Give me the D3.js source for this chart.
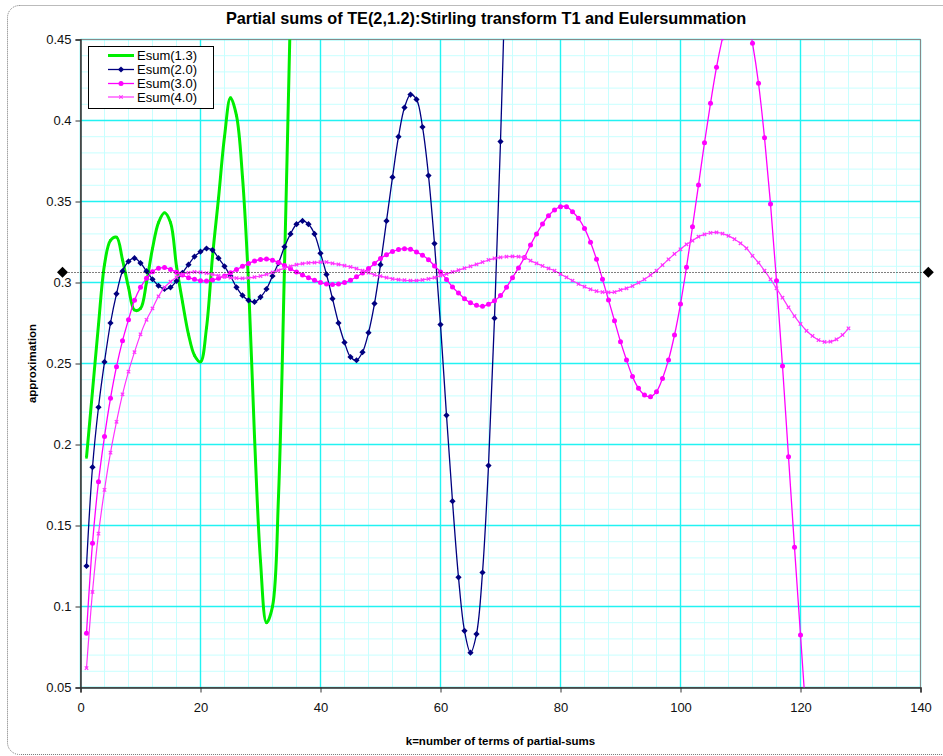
<!DOCTYPE html>
<html>
<head>
<meta charset="utf-8">
<script src="https://cdn.jsdelivr.net/npm/d3@7"></script>
<style>
  body { margin: 0; background: #fff; }
  svg text { font-family: "Liberation Sans", Arial, sans-serif; }
</style>
</head>
<body>
<svg id="chart" width="943" height="756"></svg>
<script>
/* data, one value per k = 1, 2, 3, ... */

var titleText = "Partial sums of TE(2,1.2):Stirling transform T1 and Eulersummation";
var xLabel = "k=number of terms of partial-sums";
var yLabel = "approximation";

var xTicks = [0, 20, 40, 60, 80, 100, 120, 140];
var yTicks = [0.05, 0.1, 0.15, 0.2, 0.25, 0.3, 0.35, 0.4, 0.45];
var yTickLabels = ["0.05", "0.1", "0.15", "0.2", "0.25", "0.3", "0.35", "0.4", "0.45"];

var seriesNames = ["Esum(1.3)", "Esum(2.0)", "Esum(3.0)", "Esum(4.0)"];

var esum13 = [0.192, 0.233, 0.274, 0.311, 0.326, 0.328, 0.314, 0.297, 0.283, 0.284,
  0.300, 0.321, 0.337, 0.343, 0.337, 0.310, 0.288, 0.268, 0.255, 0.251,
  0.272, 0.316, 0.352, 0.390, 0.414, 0.403, 0.365, 0.300, 0.205, 0.128,
  0.090, 0.100, 0.168, 0.310, 0.470];

var esum20 = [0.125, 0.186, 0.223, 0.251, 0.275, 0.293, 0.307, 0.313, 0.315, 0.312,
  0.307, 0.302, 0.298, 0.296, 0.297, 0.301, 0.306, 0.311, 0.316, 0.319,
  0.321, 0.320, 0.315, 0.310, 0.304, 0.297, 0.292, 0.289, 0.288, 0.291,
  0.296, 0.304, 0.312, 0.322, 0.330, 0.336, 0.338, 0.336, 0.330, 0.318,
  0.305, 0.290, 0.275, 0.263, 0.254, 0.252, 0.257, 0.269, 0.287, 0.311,
  0.338, 0.365, 0.390, 0.408, 0.416, 0.413, 0.396, 0.366, 0.324, 0.274,
  0.218, 0.165, 0.118, 0.085, 0.0715, 0.083, 0.121, 0.187, 0.278, 0.387,
  0.515];

var esum30 = [0.0835, 0.139, 0.177, 0.205, 0.2285, 0.248, 0.264, 0.277, 0.289, 0.297,
  0.3026, 0.3067, 0.3088, 0.3092, 0.3081, 0.3063, 0.3046, 0.303, 0.302, 0.3011,
  0.3009, 0.3015, 0.3026, 0.304, 0.306, 0.308, 0.310, 0.3118, 0.3132, 0.3142,
  0.3145, 0.3138, 0.3124, 0.3105, 0.3085, 0.3065, 0.3047, 0.303, 0.3014, 0.300,
  0.299, 0.2988, 0.299, 0.300, 0.3014, 0.3035, 0.3059, 0.3086, 0.3117, 0.3148,
  0.3172, 0.3191, 0.3203, 0.3209, 0.3205, 0.3189, 0.3168, 0.3141, 0.3102, 0.3065,
  0.3019, 0.2972, 0.2935, 0.290, 0.2875, 0.2859, 0.2853, 0.2866, 0.2888, 0.2919,
  0.297, 0.303, 0.309, 0.3155, 0.3231, 0.330, 0.3361, 0.3412, 0.3448, 0.3468,
  0.3468, 0.3437, 0.3396, 0.3334, 0.3248, 0.3143, 0.302, 0.2892, 0.2764, 0.2635,
  0.2522, 0.2419, 0.2347, 0.2306, 0.2295, 0.2326, 0.2408, 0.2522, 0.2676, 0.2867,
  0.3094, 0.3344, 0.3602, 0.3863, 0.4106, 0.4328, 0.451, 0.466, 0.475, 0.476,
  0.467, 0.4477, 0.423, 0.3894, 0.3485, 0.3011, 0.2485, 0.1925, 0.1365, 0.0824,
  0.028];

var esum40 = [0.062, 0.109, 0.145, 0.172, 0.195, 0.214, 0.231, 0.245, 0.257, 0.268,
  0.277, 0.284, 0.2915, 0.297, 0.3005, 0.3032, 0.305, 0.306, 0.3065, 0.3063,
  0.3058, 0.305, 0.3042, 0.3035, 0.303, 0.3027, 0.3026, 0.3028, 0.3033, 0.304,
  0.305, 0.3062, 0.3075, 0.3088, 0.310, 0.311, 0.3117, 0.3121, 0.3123, 0.3126,
  0.3126, 0.3118, 0.3112, 0.3104, 0.3096, 0.3086, 0.3073, 0.3061, 0.3047, 0.3039,
  0.303, 0.3022, 0.3018, 0.3014, 0.3012, 0.3012, 0.3016, 0.3022, 0.303, 0.3043,
  0.3053, 0.3065, 0.3076, 0.3088, 0.310, 0.3112, 0.3126, 0.3139, 0.3149, 0.3155,
  0.3159, 0.3161, 0.3159, 0.3155, 0.3135, 0.3118, 0.3102, 0.3087, 0.3073, 0.3052,
  0.3032, 0.3011, 0.2991, 0.2974, 0.2958, 0.2946, 0.2941, 0.2939, 0.2941, 0.2954,
  0.2964, 0.2978, 0.2999, 0.302, 0.3046, 0.3073, 0.3108, 0.3143, 0.3176, 0.3205,
  0.3236, 0.3258, 0.3283, 0.3297, 0.3307, 0.3309, 0.3302, 0.3288, 0.3267, 0.3242,
  0.3211, 0.3165, 0.3122, 0.3073, 0.302, 0.2964, 0.2906, 0.2847, 0.2793, 0.2744,
  0.2702, 0.267, 0.2645, 0.2633, 0.2635, 0.2649, 0.2676, 0.2717];

// the dotted limit line with its two diamonds (sits just outside the plot)
var limitK = [-3, 141.3];
var limitV = [0.3063, 0.3063];

/* SECTION: setup */

var svg = d3.select("#chart"),
    width = +svg.attr("width"),
    height = +svg.attr("height");

var x = d3.scaleLinear().domain([0, 140]).range([80.5, 920.5]);
var y = d3.scaleLinear().domain([0.05, 0.45]).range([687.5, 39.5]);

// chart area frame
svg.append("rect")
    .attr("x", 7.5).attr("y", 5.5)
    .attr("width", 960).attr("height", 749)
    .attr("rx", 12).attr("ry", 12)
    .attr("fill", "#fff")
    .attr("stroke", "#777")
    .attr("stroke-dasharray", "1,1");

svg.append("text")
    .attr("x", 486).attr("y", 24)
    .attr("text-anchor", "middle")
    .attr("font-size", 16.3).attr("font-weight", "bold")
    .text(titleText);

/* SECTION: grid */

var grid = svg.append("g").attr("class", "grid");
var minorX = d3.range(0, 141, 4), minorY = d3.range(0.05, 0.4501, 0.01);

grid.selectAll("line.mx").data(minorX).enter().append("line")
    .attr("x1", function(d) { return x(d); }).attr("x2", function(d) { return x(d); })
    .attr("y1", y(0.05)).attr("y2", y(0.45))
    .attr("stroke", "#c8ffff").attr("stroke-width", 1);
grid.selectAll("line.my").data(minorY).enter().append("line")
    .attr("y1", function(d) { return y(d); }).attr("y2", function(d) { return y(d); })
    .attr("x1", x(0)).attr("x2", x(140))
    .attr("stroke", "#c8ffff").attr("stroke-width", 1);
grid.selectAll("line.Mx").data(xTicks).enter().append("line")
    .attr("x1", function(d) { return x(d); }).attr("x2", function(d) { return x(d); })
    .attr("y1", y(0.05)).attr("y2", y(0.45))
    .attr("stroke", "#22f2f2").attr("stroke-width", 1.4);
grid.selectAll("line.My").data(yTicks).enter().append("line")
    .attr("y1", function(d) { return y(d); }).attr("y2", function(d) { return y(d); })
    .attr("x1", x(0)).attr("x2", x(140))
    .attr("stroke", "#22f2f2").attr("stroke-width", 1.4);

svg.append("rect")
    .attr("x", x(0)).attr("y", y(0.45))
    .attr("width", x(140) - x(0)).attr("height", y(0.05) - y(0.45))
    .attr("fill", "none").attr("stroke", "#888");

/* SECTION: axes */

var yAxis = d3.axisLeft(y).tickValues(yTicks).tickSize(5).tickPadding(4)
    .tickFormat(function(d, i) { return yTickLabels[i]; });
var xAxis = d3.axisBottom(x).tickValues(xTicks).tickSize(5).tickPadding(10)
    .tickFormat(function(d) { return d; });

var gy = svg.append("g").attr("transform", "translate(" + x(0) + ",0)").call(yAxis);
var gx = svg.append("g").attr("transform", "translate(0," + y(0.05) + ")").call(xAxis);
[gx, gy].forEach(function(g) {
  g.select(".domain").attr("stroke", "#333").attr("stroke-width", 1.5);
  g.selectAll(".tick line").attr("stroke", "#333");
  g.selectAll(".tick text").attr("font-size", 13).attr("fill", "#111")
      .attr("font-family", "Liberation Sans, Arial, sans-serif");
});

svg.append("text")
    .attr("x", 500.5).attr("y", 745)
    .attr("text-anchor", "middle")
    .attr("font-size", 11.5).attr("font-weight", "bold")
    .text(xLabel);

svg.append("text")
    .attr("transform", "translate(36," + 363.5 + ") rotate(-90)")
    .attr("text-anchor", "middle")
    .attr("font-size", 11.5).attr("font-weight", "bold")
    .text(yLabel);

/* SECTION: series */

svg.append("clipPath").attr("id", "plotclip")
  .append("rect")
    .attr("x", x(0)).attr("y", y(0.45))
    .attr("width", x(140) - x(0)).attr("height", y(0.05) - y(0.45));

function toPoints(values) {
  return values.map(function(v, i) { return {k: i + 1, v: v}; });
}

var line = d3.line()
    .x(function(d) { return x(d.k); })
    .y(function(d) { return y(d.v); })
    .curve(d3.curveCatmullRom.alpha(0.5));

var diamond = function(r) { return "M0," + (-r) + "L" + r + ",0L0," + r + "L" + (-r) + ",0Z"; };
var cross = function(r) { return "M" + (-r) + "," + (-r) + "L" + r + "," + r + "M" + (-r) + "," + r + "L" + r + "," + (-r); };

var series = [
  {name: seriesNames[0], data: esum13, color: "#00ee00", width: 3, marker: "square"},
  {name: seriesNames[1], data: esum20, color: "#000080", width: 1.3, marker: "diamond"},
  {name: seriesNames[2], data: esum30, color: "#ff00ff", width: 1.3, marker: "dot"},
  {name: seriesNames[3], data: esum40, color: "#ff33ff", width: 1.2, marker: "cross"}
];

function drawMarker(sel, s) {
  if (s.marker === "diamond") {
    sel.append("path").attr("d", diamond(3.1)).attr("fill", s.color);
  } else if (s.marker === "dot") {
    sel.append("circle").attr("r", 2.5).attr("fill", s.color);
  } else if (s.marker === "cross") {
    sel.append("path").attr("d", cross(1.7)).attr("stroke", s.color).attr("stroke-width", 1.2);
  } else {
    sel.append("rect").attr("x", -1.2).attr("y", -1.2).attr("width", 2.4).attr("height", 2.4)
        .attr("fill", s.color);
  }
}

var plot = svg.append("g").attr("clip-path", "url(#plotclip)");
series.forEach(function(s) {
  var pts = toPoints(s.data);
  plot.append("path")
      .datum(pts)
      .attr("d", line)
      .attr("fill", "none")
      .attr("stroke", s.color)
      .attr("stroke-width", s.width);
  var m = plot.append("g").selectAll("g").data(pts).enter().append("g")
      .attr("transform", function(d) { return "translate(" + x(d.k) + "," + y(d.v) + ")"; });
  drawMarker(m, s);
});

/* SECTION: limit line */

var limitPts = limitK.map(function(k, i) { return {k: k, v: limitV[i]}; });
svg.append("path")
    .datum(limitPts)
    .attr("d", d3.line().x(function(d) { return x(d.k); }).y(function(d) { return Math.round(y(d.v)) + 0.5; }))
    .attr("stroke", "#000").attr("stroke-width", 1)
    .attr("stroke-dasharray", "1,2").attr("fill", "none");
svg.selectAll("path.lim").data(limitPts).enter().append("path")
    .attr("class", "lim")
    .attr("transform", function(d) { return "translate(" + x(d.k) + "," + y(d.v) + ")"; })
    .attr("d", diamond(5.5)).attr("fill", "#000");

/* SECTION: legend */

var legend = svg.append("g");
legend.append("rect")
    .attr("x", 88.5).attr("y", 46.5).attr("width", 125).attr("height", 62)
    .attr("fill", "#fff").attr("stroke", "#000");
var rows = [55.5, 69.5, 83.5, 97];
series.forEach(function(s, i) {
  var row = legend.append("g").attr("transform", "translate(0," + rows[i] + ")");
  row.append("line").attr("x1", 108).attr("x2", 134).attr("y1", 0).attr("y2", 0)
      .attr("stroke", s.color).attr("stroke-width", s.width);
  drawMarker(row.append("g").attr("transform", "translate(121,0)"), s);
  row.append("text").attr("x", 137).attr("y", 4.5)
      .attr("font-size", 13).text(s.name);
});
</script>
</body>
</html>
